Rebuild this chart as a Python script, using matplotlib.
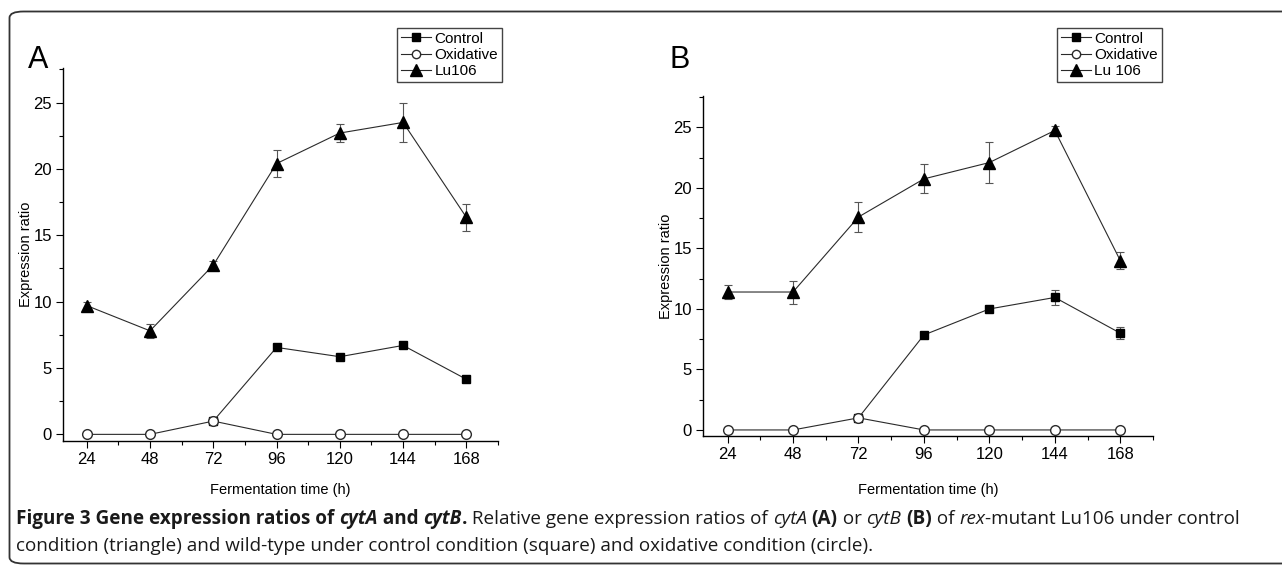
import matplotlib
matplotlib.use("Agg")
import matplotlib.pyplot as plt
from matplotlib.patches import FancyBboxPatch
from matplotlib.lines import Line2D
from matplotlib.ticker import MultipleLocator

# data
hours = [24, 48, 72, 96, 120, 144, 168]
ctrl_hours = [72, 96, 120, 144, 168]

a_control = [1.0, 6.55, 5.85, 6.7, 4.15]
a_control_err = [0.1, 0.15, 0.15, 0.2, 0.2]
a_oxidative = [0, 0, 1.0, 0, 0, 0, 0]
a_oxidative_err = [0.1, 0.1, 0.1, 0, 0, 0, 0]
a_lu106 = [9.7, 7.8, 12.75, 20.4, 22.7, 23.5, 16.35]
a_lu106_err = [0.3, 0.55, 0.3, 1.0, 0.65, 1.45, 1.0]

b_control = [1.0, 7.85, 10.0, 10.95, 8.0]
b_control_err = [0.1, 0.15, 0.15, 0.65, 0.5]
b_oxidative = [0, 0, 1.0, 0, 0, 0, 0]
b_oxidative_err = [0, 0, 0.1, 0, 0, 0, 0]
b_lu106 = [11.4, 11.4, 17.6, 20.75, 22.1, 24.75, 14.0]
b_lu106_err = [0.6, 0.95, 1.2, 1.2, 1.7, 0.35, 0.7]

legend_a = ["Control", "Oxidative", "Lu106"]
legend_b = ["Control", "Oxidative", "Lu 106"]

plt.rcParams['font.family'] = ["Liberation Sans Narrow", "Liberation Sans", "DejaVu Sans"]

W, H = 1282, 565
fig = plt.figure(figsize=(W / 100, H / 100), dpi=100)

# rounded frame around the figure (open on the right)
frame = FancyBboxPatch((9.5 / W, 1.5 / H), 1.2, 1 - 13 / H,
                       boxstyle="round,pad=0,rounding_size=0.011",
                       transform=fig.transFigure, fill=False,
                       edgecolor="#333333", linewidth=1.3, clip_on=False)
fig.patches.append(frame)

LINE = "#2a2a2a"


def draw_panel(rect, control, control_err, oxid, oxid_err, lu, lu_err,
               labels, leg_xy, letter, letter_xy, xlab_y, ylab_x):
    ax = fig.add_axes(rect)
    kw = dict(color=LINE, linewidth=0.8, ecolor="#555555",
              elinewidth=0.8, capsize=3, capthick=0.8)
    ax.errorbar(ctrl_hours, control, yerr=control_err, marker="s", markersize=6,
                markerfacecolor="black", markeredgecolor="black", zorder=3, **kw)
    ax.errorbar(hours, oxid, yerr=oxid_err, marker="o", markersize=7,
                markerfacecolor="white", markeredgecolor=LINE, zorder=4, **kw)
    ax.errorbar(hours, lu, yerr=lu_err, marker="^", markersize=8,
                markerfacecolor="black", markeredgecolor="black", zorder=3, **kw)

    ax.set_xlim(15, 180)
    ax.set_ylim(-0.5, 27.6)
    ax.set_xticks(hours)
    ax.xaxis.set_minor_locator(MultipleLocator(12))
    ax.set_yticks([0, 5, 10, 15, 20, 25])
    ax.yaxis.set_minor_locator(MultipleLocator(2.5))
    ax.tick_params(which="major", direction="out", length=5, width=0.8, labelsize=12, pad=3)
    ax.tick_params(which="minor", direction="out", length=3, width=0.8)
    for s in ["top", "right"]:
        ax.spines[s].set_visible(False)
    for s in ["left", "bottom"]:
        ax.spines[s].set_linewidth(1.0)
    ax.set_ylabel("Expression ratio", fontsize=10.5)
    ax.yaxis.set_label_coords(ylab_x, 0.5)
    ax.set_xlabel("Fermentation time (h)", fontsize=10.5)
    ax.xaxis.set_label_coords(0.5, xlab_y)

    handles = [
        Line2D([], [], color=LINE, lw=0.8, marker="s", markersize=6,
               markerfacecolor="black", markeredgecolor="black"),
        Line2D([], [], color=LINE, lw=0.8, marker="o", markersize=6,
               markerfacecolor="white", markeredgecolor=LINE),
        Line2D([], [], color=LINE, lw=0.8, marker="^", markersize=8,
               markerfacecolor="black", markeredgecolor="black"),
    ]
    fig.legend(handles, labels, loc="upper left",
               bbox_to_anchor=leg_xy, bbox_transform=fig.transFigure,
               fontsize=11, frameon=True, fancybox=False, edgecolor="#444444",
               framealpha=1, handlelength=2.0, handletextpad=0.2, borderpad=0.25,
               labelspacing=0.15, borderaxespad=0)
    fig.text(letter_xy[0], letter_xy[1], letter, fontsize=22,
             family=["Liberation Sans", "DejaVu Sans"], va="baseline", ha="left")
    return ax


# xlabel top sits about 43 px under the x axis line in both panels
draw_panel([63 / W, 1 - 441 / H, 435 / W, 373 / H],
           a_control, a_control_err, a_oxidative, a_oxidative_err, a_lu106, a_lu106_err,
           legend_a, (397 / W, 1 - 28 / H), "A", (28 / W, 1 - 68 / H),
           -42 / 373, -0.068)
draw_panel([703 / W, 1 - 436 / H, 450 / W, 340 / H],
           b_control, b_control_err, b_oxidative, b_oxidative_err, b_lu106, b_lu106_err,
           legend_b, (1057 / W, 1 - 28 / H), "B", (669 / W, 1 - 68 / H),
           -47 / 340, -0.067)

# caption, built from pieces so bold / italic can be mixed
cap_font = ["Open Sans", "DejaVu Sans"]
line1 = [("Figure 3 Gene expression ratios of ", "bold", "normal"),
         ("cytA", "bold", "italic"), (" and ", "bold", "normal"),
         ("cytB", "bold", "italic"), (".", "bold", "normal"),
         (" Relative gene expression ratios of ", "normal", "normal"),
         ("cytA", "normal", "italic"), (" ", "normal", "normal"),
         ("(A)", "bold", "normal"), (" or ", "normal", "normal"),
         ("cytB", "normal", "italic"), (" ", "normal", "normal"),
         ("(B)", "bold", "normal"), (" of ", "normal", "normal"),
         ("rex", "normal", "italic"), ("-mutant Lu106 under control", "normal", "normal")]
line2 = [("condition (triangle) and wild-type under control condition (square) and oxidative condition (circle).",
          "normal", "normal")]

fig.canvas.draw()
renderer = fig.canvas.get_renderer()


def put_line(pieces, x0, y0):
    x = x0
    for txt, weight, style in pieces:
        t = fig.text(x, y0, txt, fontsize=13.6, family=cap_font, weight=weight,
                     style=style, color="#1a1a1a", va="baseline", ha="left")
        bb = t.get_window_extent(renderer=renderer)
        x += bb.width / fig.bbox.width


put_line(line1, 16 / W, 1 - 524 / H)
put_line(line2, 16 / W, 1 - 551 / H)

fig.savefig("out.png", dpi=100)
